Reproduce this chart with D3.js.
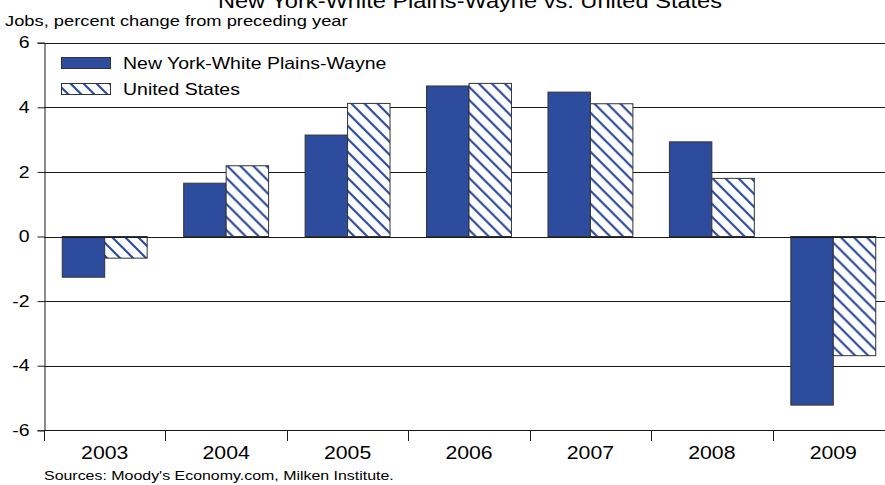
<!DOCTYPE html>
<html>
<head>
<meta charset="utf-8">
<script src="https://cdn.jsdelivr.net/npm/d3@7"></script>
<style>
  html, body { margin: 0; padding: 0; background: #fff; }
  svg { display: block; font-family: "Liberation Sans", Arial, sans-serif; }
</style>
</head>
<body>
<svg id="chart" width="885" height="485"></svg>
<script>
const categories = ["2003", "2004", "2005", "2006", "2007", "2008", "2009"];
const seriesNames = ["New York-White Plains-Wayne", "United States"];
const nyValues = [-1.26, 1.65, 3.14, 4.66, 4.47, 2.93, -5.22];
const usValues = [-0.67, 2.19, 4.12, 4.74, 4.11, 1.80, -3.69];
const yTicks = [-6, -4, -2, 0, 2, 4, 6];

const svg = d3.select("#chart");
const blue = "#2E4C9E";
const STRETCH = 1.18;

function stretch(sel, f) {
  sel.each(function () {
    const len = this.getComputedTextLength();
    d3.select(this).attr("textLength", len * f).attr("lengthAdjust", "spacingAndGlyphs");
  });
}

const defs = svg.append("defs");
const pat = defs.append("pattern")
  .attr("id", "hatch")
  .attr("patternUnits", "userSpaceOnUse")
  .attr("width", 13).attr("height", 13);
pat.append("rect").attr("width", 13).attr("height", 13).attr("fill", "#fff");
pat.append("path")
  .attr("d", "M-3,10 L3,16 M0,0 L13,13 M10,-3 L16,3")
  .attr("stroke", blue).attr("stroke-width", 2.2);

const plotLeft = 44, plotRight = 894, plotTop = 42.7, plotBottom = 430.3;

const x = d3.scaleBand().domain(categories).range([plotLeft, plotRight]).paddingInner(0).paddingOuter(0);
const x1 = d3.scaleBand().domain(seriesNames).range([0, x.bandwidth()]).paddingInner(0).paddingOuter(0.43);
const y = d3.scaleLinear().domain([-6, 6]).range([plotBottom, plotTop]);

// title
svg.append("text").attr("x", 470).attr("y", 8).attr("text-anchor", "middle")
  .attr("font-size", 20).attr("fill", "#000")
  .text("New York-White Plains-Wayne vs. United States")
  .call(stretch, STRETCH);
svg.append("text").attr("x", 5).attr("y", 25.5)
  .attr("font-size", 15.5).attr("fill", "#000")
  .text("Jobs, percent change from preceding year")
  .call(stretch, STRETCH);

// gridlines
svg.append("g").selectAll("line").data(yTicks).join("line")
  .attr("x1", plotLeft).attr("x2", 885)
  .attr("y1", d => Math.round(y(d)) + 0.5).attr("y2", d => Math.round(y(d)) + 0.5)
  .attr("stroke", "#1a1a1a").attr("stroke-width", 1);

// y axis
const yAxis = svg.append("g").attr("transform", `translate(${plotLeft + 0.5},0)`)
  .call(d3.axisLeft(y).tickValues(yTicks).tickSize(7).tickPadding(8).tickFormat(d => String(d)));
yAxis.select(".domain").attr("stroke", "#1a1a1a");
yAxis.selectAll(".tick line").attr("stroke", "#1a1a1a");
yAxis.selectAll("text").attr("font-size", 16.5).attr("fill", "#000")
  .attr("font-family", "Liberation Sans, Arial, sans-serif")
  .call(stretch, STRETCH);

// bars
const data = categories.map((c, i) => ({ cat: c, vals: [nyValues[i], usValues[i]] }));
const groups = svg.append("g").selectAll("g").data(data).join("g")
  .attr("transform", d => `translate(${x(d.cat)},0)`);
groups.selectAll("rect").data(d => d.vals.map((v, j) => ({ s: seriesNames[j], v, j })))
  .join("rect")
  .attr("x", d => x1(d.s))
  .attr("width", x1.bandwidth())
  .attr("y", d => y(Math.max(0, d.v)))
  .attr("height", d => Math.abs(y(d.v) - y(0)))
  .attr("fill", d => d.j === 0 ? blue : "url(#hatch)")
  .attr("stroke", "#333")
  .attr("stroke-width", 1);

// zero line redraw
svg.append("line").attr("x1", plotLeft).attr("x2", 885)
  .attr("y1", Math.round(y(0)) + 0.5).attr("y2", Math.round(y(0)) + 0.5)
  .attr("stroke", "#1a1a1a");

// x axis
const xAxis = svg.append("g").attr("transform", `translate(0,${Math.round(y(-6)) + 0.5})`)
  .call(d3.axisBottom(x).tickSize(0).tickPadding(16));
xAxis.select(".domain").remove();
xAxis.selectAll("text").attr("font-size", 18).attr("fill", "#000")
  .attr("font-family", "Liberation Sans, Arial, sans-serif")
  .call(stretch, STRETCH);
// category separators
const seps = d3.range(categories.length).map(i => x(categories[i]));
svg.append("g").selectAll("line").data(seps).join("line")
  .attr("x1", d => Math.round(d) + 0.5).attr("x2", d => Math.round(d) + 0.5)
  .attr("y1", Math.round(y(-6))).attr("y2", Math.round(y(-6)) + 11)
  .attr("stroke", "#1a1a1a");

// sources
svg.append("text").attr("x", 44).attr("y", 480)
  .attr("font-size", 13.5).attr("fill", "#000")
  .text("Sources: Moody's Economy.com, Milken Institute.")
  .call(stretch, STRETCH);

// legend
const legend = svg.append("g");
seriesNames.forEach((name, i) => {
  const ly = 57 + i * 26;
  legend.append("rect").attr("x", 61.5).attr("y", ly + 0.5).attr("width", 49).attr("height", 11)
    .attr("fill", i === 0 ? blue : "url(#hatch)").attr("stroke", "#333");
  legend.append("text").attr("x", 123).attr("y", ly + 12)
    .attr("font-size", 16.5).attr("fill", "#000").text(name)
    .call(stretch, STRETCH);
});
</script>
</body>
</html>
